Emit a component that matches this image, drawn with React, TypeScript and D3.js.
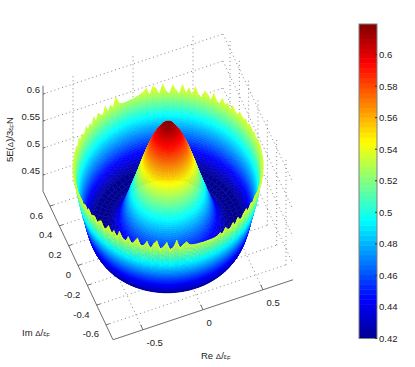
import React from 'react';
import * as d3 from 'd3';

// tick values
const reTicks = [-0.5, 0, 0.5];
const imTicks = [-0.6, -0.4, -0.2, 0, 0.2, 0.4, 0.6];
const zTicks = [0.45, 0.5, 0.55, 0.6];
const barTicks = [0.42, 0.44, 0.46, 0.48, 0.5, 0.52, 0.54, 0.56, 0.58, 0.6];

// energy against radius
const radii = [0, 0.02, 0.04, 0.06, 0.08, 0.1, 0.12, 0.14, 0.16, 0.18, 0.2, 0.22, 0.24, 0.26, 0.28, 0.3, 0.32, 0.34, 0.36, 0.38, 0.4, 0.44, 0.48, 0.52, 0.56, 0.6, 0.61, 0.62, 0.63, 0.64, 0.65, 0.66, 0.67, 0.68, 0.69, 0.7, 0.71, 0.72, 0.73];
const energies = [0.617, 0.616, 0.613, 0.608, 0.602, 0.595, 0.587, 0.578, 0.568, 0.557, 0.545, 0.533, 0.52, 0.508, 0.496, 0.485, 0.473, 0.462, 0.452, 0.443, 0.436, 0.426, 0.421, 0.42, 0.42, 0.422, 0.426, 0.43, 0.437, 0.444, 0.452, 0.462, 0.47, 0.479, 0.487, 0.496, 0.506, 0.518, 0.532];

// height of the jagged rim, one value every 2 degrees
const rimRadius = 0.74;
const rimEnergy = [
  0.535, 0.532, 0.537, 0.533, 0.536, 0.538, 0.532, 0.539, 0.533, 0.537,
  0.54, 0.531, 0.534, 0.541, 0.53, 0.539, 0.533, 0.542, 0.529, 0.532,
  0.543, 0.528, 0.536, 0.541, 0.527, 0.53, 0.544, 0.526, 0.539, 0.529,
  0.544, 0.525, 0.533, 0.542, 0.524, 0.531, 0.544, 0.523, 0.537, 0.541,
  0.525, 0.54, 0.534, 0.531, 0.529, 0.527, 0.526, 0.525, 0.525, 0.526,
  0.531, 0.544, 0.528, 0.535, 0.524, 0.54, 0.526, 0.532, 0.538, 0.524,
  0.539, 0.527, 0.534, 0.525, 0.538, 0.528, 0.532, 0.537, 0.527, 0.539,
  0.529, 0.534, 0.537, 0.53, 0.538, 0.531, 0.535, 0.537, 0.532, 0.536,
  0.533, 0.536, 0.534, 0.537, 0.533, 0.536, 0.534, 0.537, 0.533, 0.538,
  0.534, 0.539, 0.532, 0.536, 0.54, 0.531, 0.541, 0.533, 0.537, 0.54,
  0.53, 0.538, 0.542, 0.529, 0.534, 0.543, 0.53, 0.54, 0.528, 0.544,
  0.532, 0.529, 0.541, 0.527, 0.536, 0.544, 0.528, 0.533, 0.542, 0.526,
  0.539, 0.545, 0.527, 0.534, 0.543, 0.525, 0.532, 0.546, 0.529, 0.537,
  0.541, 0.534, 0.532, 0.531, 0.531, 0.53, 0.53, 0.53, 0.529, 0.529,
  0.53, 0.536, 0.528, 0.54, 0.532, 0.529, 0.539, 0.527, 0.541, 0.533,
  0.529, 0.538, 0.541, 0.53, 0.534, 0.54, 0.529, 0.536, 0.541, 0.531,
  0.538, 0.532, 0.54, 0.534, 0.531, 0.539, 0.533, 0.537, 0.54, 0.533,
  0.536, 0.538, 0.534, 0.537, 0.533, 0.536, 0.535, 0.538, 0.534, 0.536,
];

// jet colormap stops
const jetStops = [0, 0.125, 0.375, 0.625, 0.875, 1];
const jetColors = ['#00008f', '#0000ff', '#00ffff', '#ffff00', '#ff0000', '#800000'];

const zMin = 0.42;
const zMax = 0.6194;
const axisEnd = 0.75;

// oblique view of the box, all from the three axes
const originX = 168;
const originY = 235.5;
const xFromRe = d3.scaleLinear().domain([-axisEnd, axisEnd]).range([-90, 90]);
const yFromRe = d3.scaleLinear().domain([-axisEnd, axisEnd]).range([30, -30]);
const xFromIm = d3.scaleLinear().domain([-axisEnd, axisEnd]).range([35, -35]);
const yFromIm = d3.scaleLinear().domain([-axisEnd, axisEnd]).range([74.25, -74.25]);
const yFromZ = d3.scaleLinear().domain([zMin, 0.6]).range([0, -97.2]);

const project = (re: number, im: number, z: number): [number, number] => [
  originX + xFromRe(re) + xFromIm(im),
  originY + yFromRe(re) + yFromIm(im) + yFromZ(z),
];

// the surface sits slightly off the middle of the box
const centerRe = 0.02;
const centerIm = 0.05;

const jet = d3.scaleLinear<string>().domain(jetStops).range(jetColors).interpolate(d3.interpolateRgb);
const colorOf = d3.scaleLinear().domain([zMin, zMax]).range([0, 1]).clamp(true);

const depth = (re: number, im: number, z: number) =>
  (-0.259 * re) / 1.5 + (-0.667 * im) / 1.5 + (1.087 * (z - zMin)) / (zMax - zMin);

const line = (pts: [number, number][]) => d3.line()(pts) as string;

function buildSurface() {
  const rs = [...radii, rimRadius];
  const rimMean = d3.mean(rimEnergy) as number;
  const n = rimEnergy.length;
  const energyAt = (ri: number, ai: number) => {
    const i = ((ai % n) + n) % n;
    if (ri === rs.length - 1) return rimEnergy[i];
    // faint streaks run down from the rim into the wall
    const w = Math.max(0, (rs[ri] - 0.66) / (rimRadius - 0.66));
    return energies[ri] + (rimEnergy[i] - rimMean) * w * w * 0.6;
  };
  const quads: { d: string; c: string; k: number }[] = [];
  const point = (ang: number, r: number, z: number) => {
    const t = (ang / n) * 2 * Math.PI;
    return { re: centerRe + r * Math.cos(t), im: centerIm + r * Math.sin(t), z };
  };
  for (let ri = 0; ri < rs.length - 1; ri++) {
    // the smooth inner part does not need every sector
    const step = rs[ri] < 0.6 ? 2 : 1;
    for (let ai = 0; ai < n; ai += step) {
      const z00 = energyAt(ri, ai);
      const z01 = energyAt(ri, ai + step);
      const z10 = energyAt(ri + 1, ai);
      const z11 = energyAt(ri + 1, ai + step);
      // cut each cell in thin bands so the colour runs smoothly
      const bands = Math.max(1, Math.ceil(Math.max(Math.abs(z10 - z00), Math.abs(z11 - z01)) / 0.0032));
      for (let b = 0; b < bands; b++) {
        const f0 = b / bands;
        const f1 = (b + 1) / bands;
        const r0 = rs[ri] + (rs[ri + 1] - rs[ri]) * f0;
        const r1 = rs[ri] + (rs[ri + 1] - rs[ri]) * f1;
        const corners = [
          point(ai, r0, z00 + (z10 - z00) * f0),
          point(ai + step, r0, z01 + (z11 - z01) * f0),
          point(ai + step, r1, z01 + (z11 - z01) * f1),
          point(ai, r1, z00 + (z10 - z00) * f1),
        ];
        const mz = d3.mean(corners, (c) => c.z) as number;
        quads.push({
          d: line(corners.map((c) => project(c.re, c.im, c.z))) + 'Z',
          c: jet(colorOf(mz)),
          k: d3.mean(corners, (c) => depth(c.re, c.im, c.z)) as number,
        });
      }
    }
  }
  return quads.sort((a, b) => a.k - b.k);
}

// colorbar
const barX = 359;
const barW = 18;
const barY = d3.scaleLinear().domain([zMin, zMax]).range([338.5, 24]);
const barSteps = d3.range(64);

const fontFamily = '"Liberation Sans", Arial, sans-serif';
const gridColor = '#7a7a7a';
const axisColor = '#6e6e6e';
const textColor = '#222';

function Grid() {
  const segs: [number, number][][] = [];
  const zTop = zMax - 0.004;
  reTicks.forEach((re) => {
    segs.push([project(re, -axisEnd, zMin), project(re, axisEnd, zMin)]);
    segs.push([project(re, axisEnd, zMin), project(re, axisEnd, zTop)]);
  });
  imTicks.forEach((im) => {
    segs.push([project(-axisEnd, im, zMin), project(axisEnd, im, zMin)]);
    segs.push([project(axisEnd, im, zMin), project(axisEnd, im, zTop)]);
  });
  zTicks.forEach((z) => {
    segs.push([project(-axisEnd, axisEnd, z), project(axisEnd, axisEnd, z)]);
    segs.push([project(axisEnd, axisEnd, z), project(axisEnd, -axisEnd, z)]);
  });
  return (
    <g fill="none" stroke={gridColor} strokeWidth={0.9} strokeDasharray="1 3">
      {segs.map((s, i) => <path key={i} d={line(s)} />)}
    </g>
  );
}

function Axes() {
  const corner = project(-axisEnd, -axisEnd, zMin);
  const right = project(axisEnd, -axisEnd, zMin);
  const left = project(-axisEnd, axisEnd, zMin);
  const leftTop = project(-axisEnd, axisEnd, zMax - 0.004);
  return (
    <g fontFamily={fontFamily} fontSize={9.5} fill={textColor}>
      <g fill="none" stroke={axisColor} strokeWidth={1}>
        <path d={line([left, corner, right])} />
        <path d={line([left, leftTop])} />
        {reTicks.map((re) => (
          <path key={re} d={line([project(re, -axisEnd, zMin), project(re, -axisEnd + 0.05, zMin)])} />
        ))}
        {imTicks.map((im) => (
          <path key={im} d={line([project(-axisEnd, im, zMin), project(-axisEnd + 0.03, im, zMin)])} />
        ))}
        {zTicks.map((z) => (
          <path key={z} d={line([project(-axisEnd, axisEnd, z), project(-axisEnd + 0.02, axisEnd, z)])} />
        ))}
      </g>
      {reTicks.map((re) => {
        const [x, y] = project(re, -axisEnd, zMin);
        return <text key={re} x={x + 3.5} y={y + 16}>{re}</text>;
      })}
      {imTicks.map((im) => {
        const [x, y] = project(-axisEnd, im, zMin);
        return <text key={im} x={x - 7} y={y + 12.5} textAnchor="end">{im}</text>;
      })}
      {zTicks.map((z) => {
        const [x, y] = project(-axisEnd, axisEnd, z);
        return <text key={z} x={x - 3} y={y - 1} textAnchor="end">{z}</text>;
      })}
      <text x={22} y={336}>Im <tspan fontSize={8}>Δ</tspan>/<tspan fontSize={7}>ε</tspan><tspan fontSize={6} dy={1}>F</tspan></text>
      <text x={201} y={359}>Re <tspan fontSize={8}>Δ</tspan>/<tspan fontSize={7}>ε</tspan><tspan fontSize={6} dy={1}>F</tspan></text>
      <text transform="translate(13,162) rotate(-90)">5E(<tspan fontSize={8}>Δ</tspan>)/3<tspan fontSize={7}>ε</tspan><tspan fontSize={6} dy={1}>F</tspan><tspan dy={-1}>N</tspan></text>
    </g>
  );
}

function Colorbar() {
  return (
    <g fontFamily={fontFamily} fontSize={9.5} fill={textColor}>
      {barSteps.map((i) => {
        const lo = zMin + ((zMax - zMin) * i) / 64;
        const hi = zMin + ((zMax - zMin) * (i + 1)) / 64;
        return (
          <rect key={i} x={barX} width={barW} y={barY(hi)} height={barY(lo) - barY(hi) + 0.5}
            fill={jet((i + 0.5) / 64)} />
        );
      })}
      <rect x={barX} y={barY(zMax)} width={barW} height={barY(zMin) - barY(zMax)} fill="none" stroke="#808080" strokeWidth={1} />
      {barTicks.map((t) => (
        <g key={t}>
          <path d={line([[barX + barW - 2, barY(t)], [barX + barW, barY(t)]])} stroke="#333" fill="none" />
          <text x={barX + barW + 2} y={barY(t) + 3.5}>{t}</text>
        </g>
      ))}
    </g>
  );
}

export default function App() {
  const quads = buildSurface();
  return (
    <svg width={415} height={367} style={{ position: 'absolute', left: 0, top: 0, background: '#fff' }}>
      <Grid />
      <Axes />
      <g strokeWidth={0.5}>
        {quads.map((q, i) => <path key={i} d={q.d} fill={q.c} stroke={q.c} />)}
      </g>
      <Colorbar />
    </svg>
  );
}
